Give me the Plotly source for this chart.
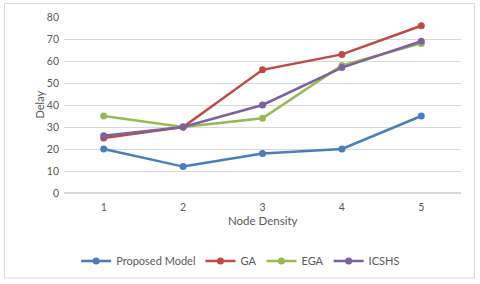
import plotly.graph_objects as go

categories = ["1", "2", "3", "4", "5"]
proposed = [20, 12, 18, 20, 35]
ga = [25, 30, 56, 63, 76]
ega = [35, 30, 34, 58, 68]
icshs = [26, 30, 40, 57, 69]

series = [
    ("Proposed Model", proposed, "#4A7EBB"),
    ("GA", ga, "#BE4B48"),
    ("EGA", ega, "#98B954"),
    ("ICSHS", icshs, "#7D60A0"),
]

fig = go.Figure()
for name, vals, col in series:
    fig.add_trace(go.Scatter(
        x=categories, y=vals, name=name, mode="lines+markers",
        line=dict(color=col, width=2.5),
        marker=dict(color=col, size=7),
    ))

L, R, T, B = 64, 461, 17, 193
W, H = R - L, B - T

def px(x):
    return (x - L) / W

def py(y):
    return (B - y) / H

fig.add_shape(type="rect", xref="paper", yref="paper",
              x0=px(4.5), x1=px(474.5), y0=py(278), y1=py(3.5),
              line=dict(color="#D9D9D9", width=1), fillcolor="rgba(0,0,0,0)")

fig.add_annotation(text="Delay", xref="paper", yref="paper", x=px(30), y=py(105),
                   showarrow=False, textangle=-90, font=dict(size=11, color="#595959"))
fig.add_annotation(text="Node Density", xref="paper", yref="paper", x=px(263), y=py(229),
                   showarrow=False, font=dict(size=11.5, color="#595959"))

fig.update_layout(
    width=480, height=284,
    margin=dict(l=L, r=480 - R, t=T, b=284 - B, autoexpand=False),
    paper_bgcolor="white", plot_bgcolor="white",
    font=dict(family="Lato, Open Sans, sans-serif", size=10, color="#595959"),
    showlegend=True,
    legend=dict(orientation="h", x=0.445, xanchor="center", y=py(261), yanchor="middle",
                font=dict(size=11, color="#595959"), itemwidth=30,
                traceorder="normal"),
    xaxis=dict(type="category", range=[-0.5, 4.5], showgrid=False, zeroline=False,
               showline=False, ticks="", ticklabelstandoff=6, automargin=False,
               tickfont=dict(size=10.5)),
    yaxis=dict(range=[0, 80], dtick=10, showgrid=True, gridcolor="#D9D9D9", gridwidth=1,
               zeroline=True, zerolinecolor="#D9D9D9", showline=False, ticks="",
               ticklabelstandoff=4, automargin=False, tickfont=dict(size=10.5)),
)

fig.write_html("out.html", config={"displayModeBar": False},
               post_script="document.body.style.margin='0';")
